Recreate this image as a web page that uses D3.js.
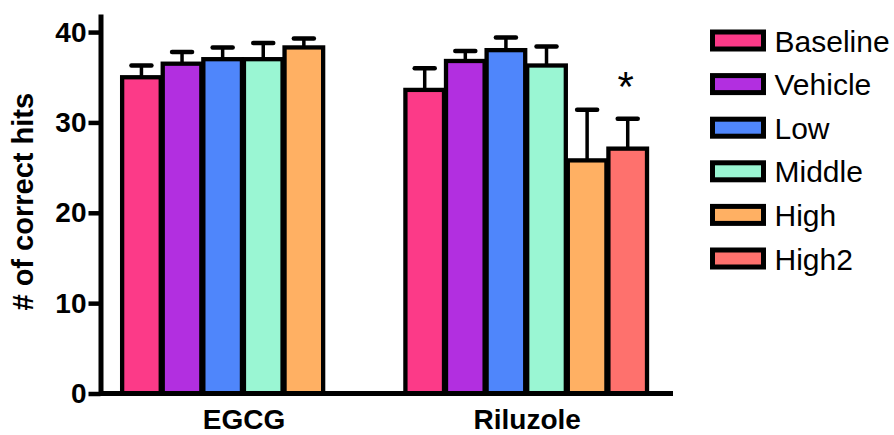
<!DOCTYPE html>
<html>
<head>
<meta charset="utf-8">
<script src="https://cdn.jsdelivr.net/npm/d3@7/dist/d3.min.js"></script>
<style>
  html, body { margin: 0; padding: 0; background: #ffffff; }
  svg { display: block; }
  text { font-family: "Liberation Sans", Arial, Helvetica, sans-serif; }
</style>
</head>
<body>
<svg id="chart" width="894" height="435"></svg>
<script>
// ---- data ----
const groups = ["EGCG", "Riluzole"];
const series = ["Baseline", "Vehicle", "Low", "Middle", "High", "High2"];
const colors = ["#FC3A88", "#B22FE0", "#4F86FB", "#9AF6D3", "#FFB063", "#FE716D"];
const egcgMeans = [35.0, 36.5, 37.0, 37.0, 38.3, null];
const egcgSem   = [1.3, 1.3, 1.3, 1.8, 1.0, null];
const riluzoleMeans = [33.6, 36.8, 38.0, 36.3, 25.8, 27.1];
const riluzoleSem   = [2.4, 1.1, 1.4, 2.1, 5.6, 3.3];
const yTicks = [0, 10, 20, 30, 40];
const yTitle = "# of correct hits";
const annotations = [{ group: "Riluzole", series: "High2", label: "*" }];

// ---- table built from arrays ----
const meansByGroup = { "EGCG": egcgMeans, "Riluzole": riluzoleMeans };
const semByGroup = { "EGCG": egcgSem, "Riluzole": riluzoleSem };
const rows = [];
groups.forEach(g => series.forEach((s, i) => {
  const m = meansByGroup[g][i];
  if (m != null) rows.push({ group: g, series: s, mean: m, sem: semByGroup[g][i], color: colors[i] });
}));

const svg = d3.select("#chart");

const x0 = d3.scaleBand().domain(groups).range([100, 673])
  .paddingInner(0.14).paddingOuter(0.0814).align(0.48);
const x1 = d3.scaleBand().domain(series).range([0, x0.bandwidth()]).padding(0);
const y = d3.scaleLinear().domain([0, 42]).range([393.5, 14]);
const color = d3.scaleOrdinal().domain(series).range(colors);

// bars
const bars = svg.append("g");
bars.selectAll("rect").data(rows).join("rect")
  .attr("x", d => x0(d.group) + x1(d.series))
  .attr("y", d => y(d.mean))
  .attr("width", x1.bandwidth() - 2)
  .attr("height", d => y(0) - y(d.mean))
  .attr("fill", d => d.color)
  .attr("stroke", "#000")
  .attr("stroke-width", 4.3);

// error bars
const eb = svg.append("g");
const cx = d => x0(d.group) + x1(d.series) + (x1.bandwidth() - 2) / 2;
eb.selectAll("line.v").data(rows).join("line").attr("class", "v")
  .attr("x1", cx).attr("x2", cx)
  .attr("y1", d => y(d.mean)).attr("y2", d => y(d.mean + d.sem))
  .attr("stroke", "#000").attr("stroke-width", 3.5);
eb.selectAll("line.c").data(rows).join("line").attr("class", "c")
  .attr("x1", d => cx(d) - 10).attr("x2", d => cx(d) + 10)
  .attr("y1", d => y(d.mean + d.sem)).attr("y2", d => y(d.mean + d.sem))
  .attr("stroke", "#000").attr("stroke-width", 4.5).attr("stroke-linecap", "round");

// annotation
svg.append("g").selectAll("text").data(annotations).join("text")
  .attr("x", d => {
    const r = rows.find(r => r.group === d.group && r.series === d.series);
    return cx(r) - 2;
  })
  .attr("y", d => {
    const r = rows.find(r => r.group === d.group && r.series === d.series);
    return y(r.mean + r.sem) - 18;
  })
  .attr("text-anchor", "middle")
  .attr("font-size", 42)
  .text(d => d.label);

// y axis
const yAxis = svg.append("g").attr("transform", "translate(100.5,0)")
  .call(d3.axisLeft(y).tickValues(yTicks).tickSize(12).tickSizeOuter(0).tickPadding(2));
yAxis.select(".domain").attr("stroke", "#000").attr("stroke-width", 5);
yAxis.selectAll(".tick line").attr("stroke", "#000").attr("stroke-width", 4.5);
yAxis.selectAll(".tick text")
  .attr("font-size", 28).attr("font-weight", "bold").attr("fill", "#000")
  .attr("font-family", "'Liberation Sans', Arial, sans-serif");

// x axis line
svg.append("line")
  .attr("x1", x0.range()[0]).attr("x2", x0.range()[1])
  .attr("y1", y(0)).attr("y2", y(0))
  .attr("stroke", "#000").attr("stroke-width", 5);

// x axis labels
const xAxis = svg.append("g").attr("transform", `translate(0,${y(0)})`)
  .call(d3.axisBottom(x0).tickSize(0).tickPadding(16));
xAxis.select(".domain").remove();
xAxis.selectAll(".tick text")
  .attr("font-size", 28).attr("font-weight", "bold").attr("fill", "#000")
  .attr("font-family", "'Liberation Sans', Arial, sans-serif");

// y title
svg.append("text")
  .attr("transform", `translate(33,${(y(0) + y(42)) / 2 - 2}) rotate(-90)`)
  .attr("text-anchor", "middle")
  .attr("font-size", 29).attr("font-weight", "bold")
  .text(yTitle);

// legend
const legend = svg.append("g");
const items = legend.selectAll("g").data(series).join("g")
  .attr("transform", (d, i) => `translate(712.5,${32 + i * 43.6})`);
items.append("rect")
  .attr("width", 51).attr("height", 17)
  .attr("fill", d => color(d))
  .attr("stroke", "#000").attr("stroke-width", 5);
items.append("text")
  .attr("x", 62).attr("y", 19.5)
  .attr("font-size", 30)
  .attr("fill", "#000")
  .text(d => d);
</script>
</body>
</html>
